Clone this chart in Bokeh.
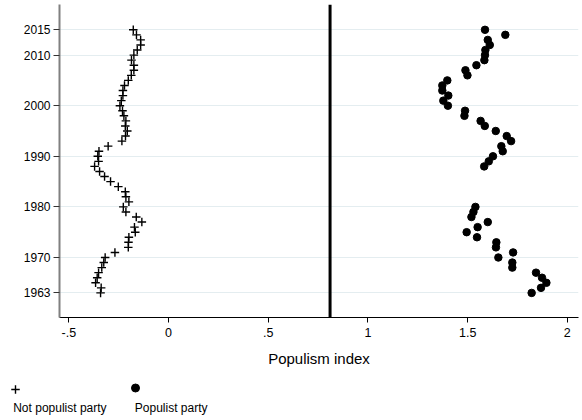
from bokeh.plotting import figure
from bokeh.models import Range1d, FixedTicker, Span
from bokeh.layouts import column
from bokeh.core.properties import value
from bokeh.embed import file_html
from bokeh.resources import INLINE

# ---------------- data ----------------
not_pop_years = list(range(1963, 2016))
not_pop_index = [
    -0.341, -0.338, -0.366, -0.358, -0.351, -0.335, -0.325, -0.318, -0.269, -0.202,
    -0.201, -0.199, -0.167, -0.171, -0.134, -0.162, -0.214, -0.227, -0.199, -0.214,
    -0.217, -0.252, -0.291, -0.321, -0.346, -0.371, -0.351, -0.355, -0.349, -0.303,
    -0.234, -0.216, -0.207, -0.217, -0.214, -0.224, -0.231, -0.244, -0.237, -0.229,
    -0.229, -0.221, -0.202, -0.187, -0.174, -0.174, -0.186, -0.174, -0.157, -0.140,
    -0.140, -0.161, -0.177,
]
pop_years = list(range(1963, 1981)) + list(range(1988, 2016))
pop_index = [
    1.821, 1.868, 1.895, 1.873, 1.843, 1.724, 1.724, 1.654, 1.728, 1.642,
    1.644, 1.547, 1.495, 1.550, 1.601, 1.519, 1.529, 1.539,
    1.583, 1.606, 1.627, 1.676, 1.669, 1.718, 1.696, 1.641, 1.586, 1.565,
    1.484, 1.487, 1.401, 1.378, 1.403, 1.373, 1.373, 1.398, 1.499, 1.489,
    1.544, 1.584, 1.587, 1.589, 1.611, 1.601, 1.689, 1.587,
]
threshold = 0.81
y_ticks = [1963, 1970, 1980, 1990, 2000, 2010, 2015]
x_ticks = [-0.5, 0, 0.5, 1, 1.5, 2]
x_tick_labels = ["-.5", "0", ".5", "1", "1.5", "2"]
legend_labels = ["Not populist party", "Populist party"]
x_title = "Populism index"

FONT = "Liberation Sans"

p = figure(width=582, height=378, x_range=Range1d(-0.547, 2.056),
           y_range=Range1d(1958.14, 2020.0), toolbar_location=None,
           output_backend="svg", min_border_left=59, min_border_right=4,
           min_border_top=4, min_border_bottom=61)
p.outline_line_color = None
p.background_fill_color = "white"
p.frame_align = False

# grid
p.xgrid.visible = False
p.ygrid.ticker = FixedTicker(ticks=y_ticks)
p.ygrid.grid_line_color = "#e4edf0"
p.ygrid.grid_line_width = 1

# y axis
p.yaxis.ticker = FixedTicker(ticks=y_ticks)
p.yaxis.axis_line_color = "#808080"
p.yaxis.axis_line_width = 2
p.yaxis.major_tick_out = 6
p.yaxis.major_tick_in = 0
p.yaxis.minor_tick_line_color = None
p.yaxis.major_tick_line_color = "#333333"
p.yaxis.major_label_standoff = 3
p.yaxis.major_label_text_font = FONT
p.yaxis.major_label_text_font_size = "12px"
p.yaxis.major_label_text_color = "black"

# x axis
p.xaxis.ticker = FixedTicker(ticks=x_ticks)
p.xaxis.major_label_overrides = {t: l for t, l in zip(x_ticks, x_tick_labels)}
p.xaxis.axis_line_color = "black"
p.xaxis.axis_line_width = 1.2
p.xaxis.major_tick_out = 5
p.xaxis.major_tick_in = 0
p.xaxis.minor_tick_line_color = None
p.xaxis.major_tick_line_color = "black"
p.xaxis.major_label_standoff = 5
p.xaxis.major_label_text_font = FONT
p.xaxis.major_label_text_font_size = "12.5px"
p.xaxis.major_label_text_color = "black"
p.xaxis.axis_label = x_title
p.xaxis.axis_label_text_font = FONT
p.xaxis.axis_label_text_font_size = "15px"
p.xaxis.axis_label_text_font_style = "normal"
p.xaxis.axis_label_text_color = "black"
p.xaxis.axis_label_standoff = 10

# threshold line
p.add_layout(Span(location=threshold, dimension="height", line_color="black",
                  line_width=3))

# data
p.scatter(not_pop_index, not_pop_years, marker="cross", size=8.5,
          line_color="black", line_width=1.4)
p.scatter(pop_index, pop_years, marker="circle", size=7.5,
          fill_color="black", line_color="black")

# ---------------- legend (below) ----------------
leg = figure(width=582, height=42, x_range=Range1d(0, 582), y_range=Range1d(42, 0),
             x_axis_type=None, y_axis_type=None,
             toolbar_location=None, output_backend="svg", min_border=0,
             min_border_left=0, min_border_right=0, min_border_top=0,
             min_border_bottom=0)
leg.frame_align = False
leg.grid.visible = False
leg.outline_line_color = None
leg.scatter([15], [11], marker="cross", size=8.5, line_color="black", line_width=1.4)
leg.scatter([135], [9.5], marker="circle", size=8, fill_color="black", line_color="black")
leg.text(x=[12.7, 134.3], y=[29, 29], text=legend_labels, text_baseline="middle",
         text_align="left", text_font=value(FONT), text_font_size="12px",
         text_color="black")

layout = column(p, leg, spacing=0)
open("out.html", "w").write(file_html(layout, INLINE))
